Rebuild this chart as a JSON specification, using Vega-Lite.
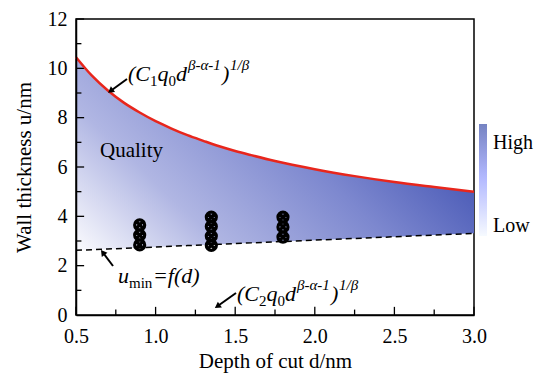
{
  "$schema": "https://vega.github.io/schema/vega-lite/v6.json",
  "width": 398,
  "height": 296,
  "autosize": {"type": "none"},
  "padding": {"left": 76, "top": 19, "right": 62, "bottom": 59},
  "background": "white",
  "config": {
    "view": {"stroke": "black", "strokeWidth": 1.5}
  },
  "datasets": {
    "curves": [
      {"d": 0.5, "upper": 10.45, "lower": 2.62},
      {"d": 0.6, "upper": 9.7, "lower": 2.648},
      {"d": 0.7, "upper": 9.1, "lower": 2.675},
      {"d": 0.8, "upper": 8.61, "lower": 2.703},
      {"d": 0.9, "upper": 8.21, "lower": 2.73},
      {"d": 1.0, "upper": 7.86, "lower": 2.758},
      {"d": 1.1, "upper": 7.56, "lower": 2.786},
      {"d": 1.2, "upper": 7.29, "lower": 2.813},
      {"d": 1.3, "upper": 7.06, "lower": 2.841},
      {"d": 1.4, "upper": 6.84, "lower": 2.868},
      {"d": 1.5, "upper": 6.65, "lower": 2.896},
      {"d": 1.6, "upper": 6.48, "lower": 2.924},
      {"d": 1.75, "upper": 6.24, "lower": 2.965},
      {"d": 2.0, "upper": 5.91, "lower": 3.034},
      {"d": 2.25, "upper": 5.63, "lower": 3.103},
      {"d": 2.5, "upper": 5.39, "lower": 3.172},
      {"d": 2.75, "upper": 5.19, "lower": 3.241},
      {"d": 3.0, "upper": 5.0, "lower": 3.31}
    ],
    "markers": [
      {"d": 0.9, "u": 2.84}, {"d": 0.9, "u": 3.24}, {"d": 0.9, "u": 3.65},
      {"d": 1.35, "u": 2.82}, {"d": 1.35, "u": 3.2}, {"d": 1.35, "u": 3.59}, {"d": 1.35, "u": 3.97},
      {"d": 1.8, "u": 3.16}, {"d": 1.8, "u": 3.57}, {"d": 1.8, "u": 3.97}
    ],
    "xMajor": [{"v": 0.5}, {"v": 1.0}, {"v": 1.5}, {"v": 2.0}, {"v": 2.5}, {"v": 3.0}],
    "xMinor": [{"v": 0.75}, {"v": 1.25}, {"v": 1.75}, {"v": 2.25}, {"v": 2.75}],
    "yMajor": [{"v": 2}, {"v": 4}, {"v": 6}, {"v": 8}, {"v": 10}, {"v": 12}],
    "yMinor": [{"v": 1}, {"v": 3}, {"v": 5}, {"v": 7}, {"v": 9}, {"v": 11}],
    "annMain": [
      {"d": 0.8266, "u": 9.485, "t": "(C"},
      {"d": 1.0119, "u": 9.485, "t": "q"},
      {"d": 1.1281, "u": 9.485, "t": "d"},
      {"d": 1.4171, "u": 9.485, "t": ")"},
      {"d": 1.5113, "u": 0.5675, "t": "(C"},
      {"d": 1.6966, "u": 0.5675, "t": "q"},
      {"d": 1.8128, "u": 0.5675, "t": "d"},
      {"d": 2.1018, "u": 0.5675, "t": ")"},
      {"d": 0.7638, "u": 1.297, "t": "u"},
      {"d": 0.9837, "u": 1.297, "t": "=f(d)"}
    ],
    "annSub": [
      {"d": 0.9648, "u": 9.283, "t": "1"},
      {"d": 1.081, "u": 9.283, "t": "0"},
      {"d": 1.6495, "u": 0.365, "t": "2"},
      {"d": 1.7657, "u": 0.365, "t": "0"},
      {"d": 0.8329, "u": 1.094, "t": "min"}
    ],
    "annSup": [
      {"d": 1.2035, "u": 9.931, "t": "β-α-1"},
      {"d": 1.4673, "u": 9.931, "t": "1/β"},
      {"d": 1.8882, "u": 1.013, "t": "β-α-1"},
      {"d": 2.152, "u": 1.013, "t": "1/β"}
    ],
    "labels": [
      {"d": 0.6508, "u": 6.405, "t": "Quality"}
    ],
    "arrows": [
      {"id": "a", "d": 0.8204, "u": 9.566, "d2": 0.7167, "u2": 9.08},
      {"id": "b", "d": 0.7324, "u": 1.986, "d2": 0.6683, "u2": 2.537},
      {"id": "c", "d": 1.505, "u": 0.892, "d2": 1.388, "u2": 0.353}
    ],
    "legend": [
      {"d": 1.0, "u": 6.0, "q": 0},
      {"d": 1.0, "u": 6.0, "q": 1}
    ]
  },
  "layer": [
    {
      "data": {"name": "curves"},
      "mark": {
        "type": "area",
        "color": {
          "gradient": "linear",
          "x1": 0, "y1": 1, "x2": 1, "y2": 0.5,
          "stops": [
            {"offset": 0, "color": "#fbfbfe"},
            {"offset": 0.3, "color": "#b0b6e3"},
            {"offset": 0.65, "color": "#7d88cf"},
            {"offset": 1, "color": "#4152b2"}
          ]
        }
      },
      "encoding": {
        "x": {
          "field": "d", "type": "quantitative",
          "scale": {"domain": [0.5, 3], "nice": false, "zero": false},
          "axis": {"orient": "bottom", "zindex": 1, "grid": false, "values": [0.5, 1, 1.5, 2, 2.5, 3], "format": ".1f", "ticks": false, "tickSize": 0, "labelPadding": 11, "labelFlush": false, "domain": true, "domainColor": "black", "domainWidth": 1.5, "labelFont": "Liberation Serif", "labelFontSize": 20, "labelColor": "black", "title": "Depth of cut d/nm", "titleFont": "Liberation Serif", "titleFontSize": 21, "titleFontWeight": "normal", "titleColor": "black", "titlePadding": 4}
        },
        "y": {
          "field": "upper", "type": "quantitative",
          "scale": {"domain": [0, 12], "nice": false, "zero": false},
          "axis": {"orient": "left", "zindex": 1, "grid": false, "values": [0, 2, 4, 6, 8, 10, 12], "ticks": false, "tickSize": 0, "labelPadding": 9, "labelFlush": false, "domain": true, "domainColor": "black", "domainWidth": 1.5, "labelFont": "Liberation Serif", "labelFontSize": 20, "labelColor": "black", "title": "Wall thickness u/nm", "titleFont": "Liberation Serif", "titleFontSize": 21, "titleFontWeight": "normal", "titleColor": "black", "titlePadding": 13}
        },
        "y2": {"field": "lower"}
      }
    },
    {
      "data": {"name": "xMajor"},
      "mark": {"type": "rule", "color": "black", "strokeWidth": 1.3},
      "encoding": {
        "x": {"field": "v", "type": "quantitative"},
        "y": {"datum": 0},
        "y2": {"datum": 0.33}
      }
    },
    {
      "data": {"name": "xMinor"},
      "mark": {"type": "rule", "color": "black", "strokeWidth": 1.3},
      "encoding": {
        "x": {"field": "v", "type": "quantitative"},
        "y": {"datum": 0},
        "y2": {"datum": 0.22}
      }
    },
    {
      "data": {"name": "yMajor"},
      "mark": {"type": "rule", "color": "black", "strokeWidth": 1.3},
      "encoding": {
        "y": {"field": "v", "type": "quantitative"},
        "x": {"datum": 0.5},
        "x2": {"datum": 0.551}
      }
    },
    {
      "data": {"name": "yMinor"},
      "mark": {"type": "rule", "color": "black", "strokeWidth": 1.3},
      "encoding": {
        "y": {"field": "v", "type": "quantitative"},
        "x": {"datum": 0.5},
        "x2": {"datum": 0.534}
      }
    },
    {
      "data": {"name": "markers"},
      "mark": {"type": "point", "shape": "M -1 0 A 1 1 0 1 0 1 0 A 1 1 0 1 0 -1 0 M -0.7 -0.7 L 0.7 0.7 M -0.7 0.7 L 0.7 -0.7", "filled": false, "color": "black", "strokeWidth": 3.2, "size": 100, "opacity": 1},
      "encoding": {
        "x": {"field": "d", "type": "quantitative"},
        "y": {"field": "u", "type": "quantitative"}
      }
    },
    {
      "data": {"name": "curves"},
      "mark": {"type": "line", "color": "black", "strokeDash": [6, 4], "strokeWidth": 1.5},
      "encoding": {
        "x": {"field": "d", "type": "quantitative"},
        "y": {"field": "lower", "type": "quantitative"}
      }
    },
    {
      "data": {"name": "curves"},
      "mark": {"type": "line", "color": "#e8261c", "strokeWidth": 2.5, "interpolate": "monotone"},
      "encoding": {
        "x": {"field": "d", "type": "quantitative"},
        "y": {"field": "upper", "type": "quantitative"}
      }
    },
    {
      "mark": {"type": "rule", "color": "#e8261c", "strokeWidth": 3},
      "encoding": {
        "y": {"datum": 0.07, "type": "quantitative"}
      }
    },
    {
      "data": {"name": "labels"},
      "mark": {"type": "text", "font": "Liberation Serif", "fontSize": 21, "align": "left", "baseline": "alphabetic", "color": "black"},
      "encoding": {
        "x": {"field": "d", "type": "quantitative"},
        "y": {"field": "u", "type": "quantitative"},
        "text": {"field": "t"}
      }
    },
    {
      "data": {"name": "annMain"},
      "mark": {"type": "text", "font": "Liberation Serif", "fontStyle": "italic", "fontSize": 22, "align": "left", "baseline": "alphabetic", "color": "black"},
      "encoding": {
        "x": {"field": "d", "type": "quantitative"},
        "y": {"field": "u", "type": "quantitative"},
        "text": {"field": "t"}
      }
    },
    {
      "data": {"name": "annSub"},
      "mark": {"type": "text", "font": "Liberation Serif", "fontSize": 15, "align": "left", "baseline": "alphabetic", "color": "black"},
      "encoding": {
        "x": {"field": "d", "type": "quantitative"},
        "y": {"field": "u", "type": "quantitative"},
        "text": {"field": "t"}
      }
    },
    {
      "data": {"name": "annSup"},
      "mark": {"type": "text", "font": "Liberation Serif", "fontStyle": "italic", "fontSize": 15, "align": "left", "baseline": "alphabetic", "color": "black"},
      "encoding": {
        "x": {"field": "d", "type": "quantitative"},
        "y": {"field": "u", "type": "quantitative"},
        "text": {"field": "t"}
      }
    },
    {
      "data": {"name": "arrows"},
      "mark": {"type": "rule", "color": "black", "strokeWidth": 2},
      "encoding": {
        "x": {"field": "d", "type": "quantitative"},
        "y": {"field": "u", "type": "quantitative"},
        "x2": {"field": "d2"},
        "y2": {"field": "u2"}
      }
    },
    {
      "data": {"name": "arrows"},
      "transform": [{"filter": "datum.id == 'a'"}],
      "mark": {"type": "point", "shape": "triangle-up", "filled": true, "color": "black", "size": 50, "angle": 234, "opacity": 1},
      "encoding": {
        "x": {"field": "d2", "type": "quantitative"},
        "y": {"field": "u2", "type": "quantitative"}
      }
    },
    {
      "data": {"name": "arrows"},
      "transform": [{"filter": "datum.id == 'b'"}],
      "mark": {"type": "point", "shape": "triangle-up", "filled": true, "color": "black", "size": 50, "angle": 323, "opacity": 1},
      "encoding": {
        "x": {"field": "d2", "type": "quantitative"},
        "y": {"field": "u2", "type": "quantitative"}
      }
    },
    {
      "data": {"name": "arrows"},
      "transform": [{"filter": "datum.id == 'c'"}],
      "mark": {"type": "point", "shape": "triangle-up", "filled": true, "color": "black", "size": 50, "angle": 235, "opacity": 1},
      "encoding": {
        "x": {"field": "d2", "type": "quantitative"},
        "y": {"field": "u2", "type": "quantitative"}
      }
    },
    {
      "data": {"name": "legend"},
      "mark": {"type": "point", "filled": true, "size": 0, "strokeWidth": 0},
      "encoding": {
        "x": {"field": "d", "type": "quantitative"},
        "y": {"field": "u", "type": "quantitative"},
        "color": {
          "field": "q", "type": "quantitative",
          "scale": {"domain": [0, 1], "range": ["#ffffff", "#3a4ea8"]},
          "legend": {
            "title": null, "orient": "none", "legendX": 403, "legendY": 105, "padding": 0,
            "direction": "vertical",
            "gradientLength": 112, "gradientThickness": 8, "gradientStrokeWidth": 0,
            "values": [0, 0.83],
            "labelExpr": "datum.value > 0.5 ? 'High' : 'Low'",
            "labelFont": "Liberation Serif", "labelFontSize": 20, "labelColor": "black",
            "labelBaseline": "middle", "labelOffset": 6
          }
        }
      }
    }
  ]
}
